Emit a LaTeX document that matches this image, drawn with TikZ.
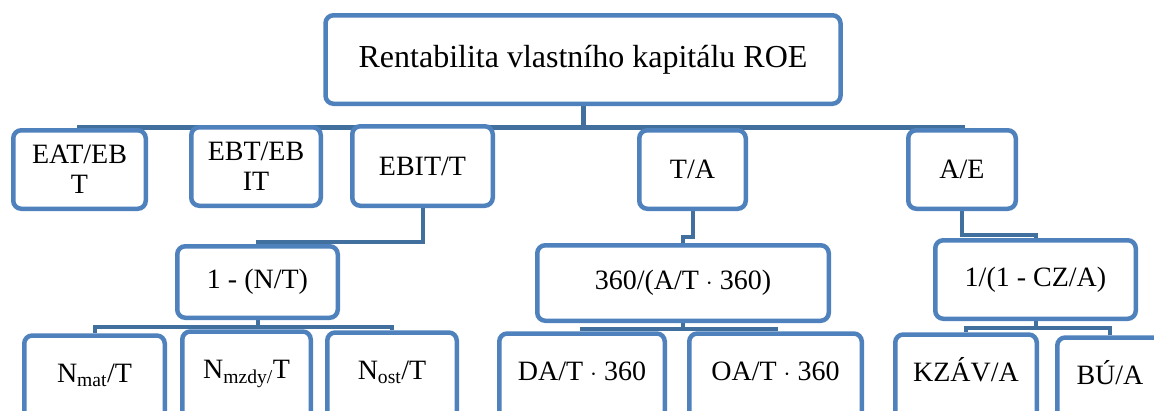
\documentclass[tikz,border=0pt]{standalone}
\usepackage{fontspec}
\setmainfont{Liberation Serif}
\usepackage{xcolor}
\usepackage{tikz}
\usetikzlibrary{backgrounds}
\usetikzlibrary{calc}

\definecolor{boxblue}{HTML}{4F81BD}
\definecolor{linkblue}{HTML}{41709F}

\begin{document}
\begin{tikzpicture}[x = 1pt, y = -1pt,
		box/.style = {rectangle, draw = boxblue, line width = 4.5pt, fill = white,
			rounded corners = 8pt, inner sep = 0pt, align = center,
			minimum height = 78.5pt, font = \fontsize{28}{30}\selectfont},
		lowbox/.style = {box, anchor = north, minimum height = 100pt,
			text height = 20pt, text depth = 26pt},
		link/.style = {draw = linkblue, line width = 4pt}]
		\useasboundingbox (0, 0) rectangle (1154, 410);
		\clip (0, 0) rectangle (1154, 410);

		% top
		\node (0) [box, minimum width = 515pt, minimum height = 88.5pt,
			font = \fontsize{32}{34}\selectfont] at (583, 59.5) {Rentabilita vlastního kapitálu ROE};

		% first row
		\node (1) [box, minimum width = 132.5pt] at (79.5, 169.5) {EAT/EB\\T};
		\node (2) [box, minimum width = 129.5pt] at (256, 166.5) {EBT/EB\\IT};
		\node (3) [box, minimum width = 140.5pt, minimum height = 79.5pt] at (422.5, 166) {EBIT/T};
		\node (4) [box, minimum width = 106.5pt] at (692.5, 169.5) {T/A};
		\node (5) [box, minimum width = 107.5pt] at (962, 169.5) {A/E};

		% second row
		\node (6) [box, minimum width = 160.5pt, minimum height = 71.5pt] at (257.5, 282) {1 - (N/T)};
		\node (7) [box, minimum width = 291.5pt, minimum height = 75.5pt] at (683, 283) {360/(A/T $\cdot$ 360)};
		\node (8) [box, minimum width = 200.5pt] at (1035.5, 279.5) {1/(1 - CZ/A)};

		% third row, cut off by the lower edge
		\node (9) [lowbox, minimum width = 140.5pt] at (94.5, 333.25) {N\textsubscript{mat}/T};
		\node (10) [lowbox, minimum width = 128.5pt] at (246.5, 329.25) {N\textsubscript{mzdy/}T};
		\node (11) [lowbox, minimum width = 129.5pt] at (392, 330.25) {N\textsubscript{ost}/T};
		\node (12) [lowbox, minimum width = 165.5pt] at (582, 331.25) {DA/T $\cdot$ 360};
		\node (13) [lowbox, minimum width = 172.5pt] at (775.5, 331.25) {OA/T $\cdot$ 360};
		\node (14) [lowbox, minimum width = 141.5pt] at (966, 332.25) {KZÁV/A};
		\node (15) [lowbox, minimum width = 105.5pt] at (1110, 335.25) {BÚ/A};

		\begin{scope}[on background layer]
		\foreach \c in {1, ..., 5}
			\draw [link, line width = 5pt] (0.south) -- ++(0, 21) -| (\c.north);

		\draw [link] (3.south) -- ++(0, 34) -| (6.north);
		\draw [link] (4.south) -- ++(0, 26) -| (7.north);
		\draw [link] (5.south) -- ++(0, 24) -| (8.north);

		\foreach \c in {9, 10, 11}
			\draw [link] (6.south) -- ++(0, 7) -| (\c.north);
		\foreach \c in {12, 13}
			\draw [link] (7.south) -- ++(0, 5.5) -| (\c.north);
		\foreach \c in {14, 15}
			\draw [link] (8.south) -- ++(0, 7) -| (\c.north);
		\end{scope}

		\end{tikzpicture}
\end{document}
